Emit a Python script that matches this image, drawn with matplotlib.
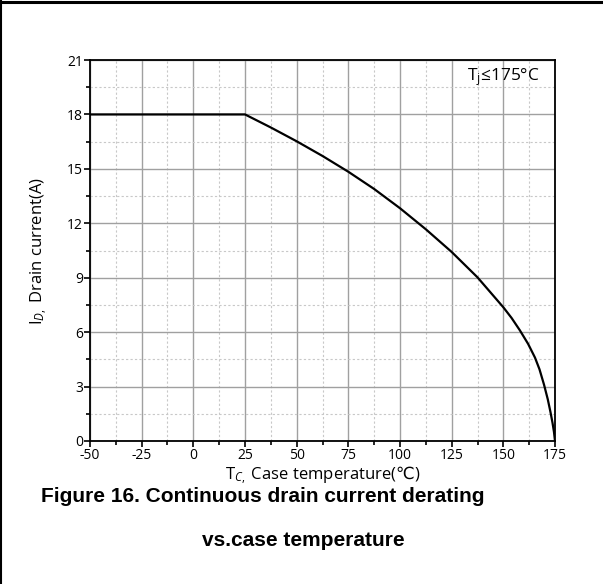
import matplotlib
matplotlib.use("Agg")
import matplotlib.pyplot as plt
from matplotlib.lines import Line2D
from matplotlib.ticker import MultipleLocator

# values
case_temp = [-50, 25, 37.5, 50, 62.5, 75, 87.5, 100, 112.5, 125, 137.5,
             150, 154, 158, 162, 165.3, 167.5, 169.7, 171.5, 172.8, 173.8, 174.5, 175]
drain_current = [18, 18, 17.28, 16.52, 15.71, 14.84, 13.89, 12.83, 11.67, 10.42, 9.02,
                 7.37, 6.78, 6.1, 5.35, 4.6, 3.95, 3.1, 2.3, 1.6, 1.0, 0.5, 0]
x_ticks = [-50, -25, 0, 25, 50, 75, 100, 125, 150, 175]
y_ticks = [0, 3, 6, 9, 12, 15, 18, 21]

plt.rcParams['font.family'] = ['Open Sans', 'DejaVu Sans']
plt.rcParams['mathtext.fontset'] = 'custom'
plt.rcParams['mathtext.rm'] = 'Open Sans'
plt.rcParams['mathtext.it'] = 'Open Sans:italic'
plt.rcParams['mathtext.sf'] = 'DejaVu Sans'
plt.rcParams['axes.unicode_minus'] = False

fig = plt.figure(figsize=(6.03, 5.84), dpi=100)
ax = fig.add_axes([90 / 603, 1 - 441 / 584, 465 / 603, 381 / 584])

ax.plot(case_temp, drain_current, color='black', lw=1.6, zorder=3)

ax.set_xlim(-50, 175)
ax.set_ylim(0, 21)
ax.set_xticks(x_ticks)
ax.set_yticks(y_ticks)
ax.xaxis.set_minor_locator(MultipleLocator(12.5))
ax.yaxis.set_minor_locator(MultipleLocator(1.5))
ax.tick_params(which='major', direction='out', length=4, width=1.2, labelsize=10, pad=1)
ax.tick_params(which='minor', direction='out', length=3, width=1.2)
ax.grid(which='major', color='#a0a0a0', lw=1.0)
ax.grid(which='minor', color='#c8c8c8', lw=0.8, ls=(0, (2, 2)))
ax.set_axisbelow(True)
for s in ax.spines.values():
    s.set_linewidth(1.3)

ax.set_xlabel(r"T$_{C,}$ Case temperature($\mathsf{℃}$)", fontsize=12, labelpad=1)
ax.set_ylabel(r"I$_{D,}$ Drain current(A)", fontsize=12, labelpad=12)
ax.text(0.968, 0.955, r"T$_{\rm j}$≤175°C", transform=ax.transAxes,
        ha='right', va='center', fontsize=12.5)

fig.text(263 / 603, 1 - 497 / 584, "Figure 16. Continuous drain current derating",
         family='Liberation Sans', weight='bold', fontsize=15, ha='center', va='center')
fig.text(303 / 603, 1 - 541 / 584, "vs.case temperature",
         family='Liberation Sans', weight='bold', fontsize=15, ha='center', va='center')

# frame lines at top and left edge of the page
fig.add_artist(Line2D([0, 1], [1 - 1.5 / 584, 1 - 1.5 / 584], color='black', lw=2.2))
fig.add_artist(Line2D([1 / 603, 1 / 603], [0, 1], color='black', lw=1.5))

fig.savefig("out.png", dpi=100)
